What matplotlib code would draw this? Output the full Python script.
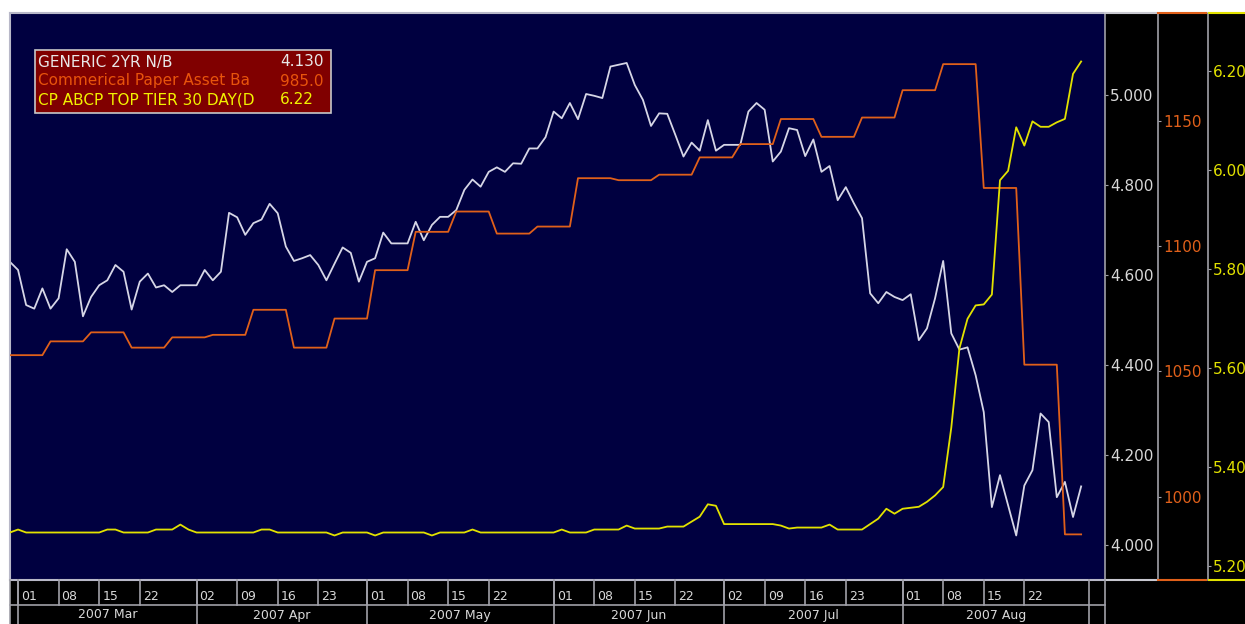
import numpy as np
import pandas as pd
import matplotlib
matplotlib.use("Agg")
import matplotlib.pyplot as plt
import matplotlib.transforms as mtransforms
from matplotlib.patches import Rectangle
from matplotlib.lines import Line2D

# weekday closes, 2007-02-28 .. 2007-08-31
first_day = "2007-02-28"
last_day = "2007-08-31"

# GENERIC 2YR N/B (yield, %)
gen_2yr = [
    4.629, 4.611, 4.533, 4.525, 4.570, 4.525, 4.548, 4.657, 4.629, 4.508,
    4.551, 4.577, 4.588, 4.622, 4.607, 4.523, 4.585, 4.603, 4.572, 4.577,
    4.562, 4.577, 4.577, 4.577, 4.611, 4.588, 4.607, 4.738, 4.728, 4.689,
    4.715, 4.723, 4.758, 4.737, 4.663, 4.631, 4.637, 4.644, 4.622, 4.588,
    4.625, 4.661, 4.649, 4.585, 4.629, 4.637, 4.694, 4.670, 4.670, 4.670,
    4.718, 4.677, 4.711, 4.729, 4.729, 4.744, 4.789, 4.812, 4.796, 4.829,
    4.839, 4.829, 4.848, 4.847, 4.881, 4.881, 4.906, 4.963, 4.948, 4.982,
    4.946, 5.002, 4.998, 4.993, 5.063, 5.067, 5.071, 5.022, 4.989, 4.931,
    4.959, 4.958, 4.911, 4.863, 4.894, 4.876, 4.944, 4.876, 4.889, 4.889,
    4.889, 4.963, 4.982, 4.967, 4.852, 4.874, 4.926, 4.922, 4.864, 4.901,
    4.829, 4.842, 4.766, 4.795, 4.759, 4.726, 4.559, 4.537, 4.562, 4.551,
    4.544, 4.557, 4.455, 4.481, 4.548, 4.631, 4.470, 4.434, 4.439, 4.377,
    4.295, 4.084, 4.155, 4.088, 4.021, 4.132, 4.166, 4.292, 4.273, 4.106,
    4.140, 4.062, 4.130,
]

# CP ABCP TOP TIER 30 DAY (rate, %)
abcp_30d = [
    5.268, 5.274, 5.268, 5.268, 5.268, 5.268, 5.268, 5.268, 5.268, 5.268,
    5.268, 5.268, 5.274, 5.274, 5.268, 5.268, 5.268, 5.268, 5.274, 5.274,
    5.274, 5.284, 5.274, 5.268, 5.268, 5.268, 5.268, 5.268, 5.268, 5.268,
    5.268, 5.274, 5.274, 5.268, 5.268, 5.268, 5.268, 5.268, 5.268, 5.268,
    5.262, 5.268, 5.268, 5.268, 5.268, 5.262, 5.268, 5.268, 5.268, 5.268,
    5.268, 5.268, 5.262, 5.268, 5.268, 5.268, 5.268, 5.274, 5.268, 5.268,
    5.268, 5.268, 5.268, 5.268, 5.268, 5.268, 5.268, 5.268, 5.274, 5.268,
    5.268, 5.268, 5.274, 5.274, 5.274, 5.274, 5.282, 5.276, 5.276, 5.276,
    5.276, 5.280, 5.280, 5.280, 5.290, 5.300, 5.325, 5.322, 5.285, 5.285,
    5.285, 5.285, 5.285, 5.285, 5.285, 5.282, 5.276, 5.278, 5.278, 5.278,
    5.278, 5.284, 5.274, 5.274, 5.274, 5.274, 5.285, 5.296, 5.316, 5.306,
    5.316, 5.318, 5.320, 5.330, 5.343, 5.360, 5.480, 5.640, 5.700, 5.727,
    5.729, 5.749, 5.980, 5.999, 6.087, 6.050, 6.099, 6.088, 6.088, 6.097,
    6.104, 6.195, 6.220,
]

# Commercial Paper Asset Backed outstanding ($bn), weekly from Wed 2007-02-28
cp_asset_weekly = [
    1056.5, 1062.0, 1065.6, 1059.5, 1063.6, 1064.6, 1074.6, 1059.5, 1071.1,
    1090.4, 1105.7, 1113.8, 1105.0, 1107.8, 1127.1, 1126.3, 1128.5, 1135.4,
    1140.7, 1150.7, 1143.6, 1151.3, 1162.2, 1172.6, 1123.2, 1052.7, 985.0,
]

series_names = ["GENERIC 2YR N/B", "Commerical Paper Asset Ba", "CP ABCP TOP TIER 30 DAY(D"]
last_values = ["4.130", "985.0", "6.22"]

week_dates = [
    "2007-03-01", "2007-03-08", "2007-03-15", "2007-03-22",
    "2007-04-02", "2007-04-09", "2007-04-16", "2007-04-23",
    "2007-05-01", "2007-05-08", "2007-05-15", "2007-05-22",
    "2007-06-01", "2007-06-08", "2007-06-15", "2007-06-22",
    "2007-07-02", "2007-07-09", "2007-07-16", "2007-07-23",
    "2007-08-01", "2007-08-08", "2007-08-15", "2007-08-22",
]
week_labels = [d[-2:] for d in week_dates]
month_starts = ["2007-03-01", "2007-04-02", "2007-05-01", "2007-06-01",
                "2007-07-02", "2007-08-01", "2007-09-03"]
month_labels = ["2007 Mar", "2007 Apr", "2007 May", "2007 Jun", "2007 Jul", "2007 Aug"]

white_ticks = [4.0, 4.2, 4.4, 4.6, 4.8, 5.0]
orange_ticks = [1000, 1050, 1100, 1150]
yellow_ticks = [5.2, 5.4, 5.6, 5.8, 6.0, 6.2]

C_NAVY = "#000040"
C_WHITE = "#D6D6E6"
C_ORANGE = "#E0601A"
C_YELLOW = "#E2E200"
C_GRID = "#A0A0A8"
C_TEXT = "#D8D8D8"

days = pd.bdate_range(first_day, last_day)
x = np.arange(len(days))
cp_asset = (pd.Series(cp_asset_weekly,
                      index=pd.date_range(first_day, periods=len(cp_asset_weekly), freq="7D"))
            .reindex(days, method="ffill"))

W, H = 1245, 624
fig = plt.figure(figsize=(W / 100, H / 100), dpi=100, facecolor="white")


def fx(px):
    return px / W


def fy(py):
    return 1 - py / H


L, R, T, B = 10, 1105, 13, 580

# black panels behind the value scales and the date rows
fig.add_artist(Rectangle((fx(R), fy(B)), 1 - fx(R), fy(T) - fy(B), transform=fig.transFigure,
                         facecolor="black", edgecolor="none", zorder=-5))
fig.add_artist(Rectangle((fx(L), 0), 1 - fx(L), fy(B), transform=fig.transFigure,
                         facecolor="black", edgecolor="none", zorder=-5))

ax = fig.add_axes([fx(L), fy(B), fx(R) - fx(L), fy(T) - fy(B)])
ax.set_facecolor(C_NAVY)
ax.plot(x, gen_2yr, color=C_WHITE, lw=1.3)
ax.set_xlim(0.01, 134.94)
ax.set_ylim(3.922, 5.182)
ax.set_xticks([])

ax_o = ax.twinx()
ax_y = ax.twinx()

# twinx moves the host ticks to the left, so put them back on the right
ax.yaxis.tick_right()
ax.set_yticks(white_ticks)
ax.yaxis.set_major_formatter(lambda v, p: f"{v:.3f}")
ax.tick_params(axis="y", colors=C_GRID, labelcolor=C_TEXT, labelsize=11, length=2, pad=1.5)
for s in ["left", "top", "bottom"]:
    ax.spines[s].set_color("#B8B8C8")
    ax.spines[s].set_linewidth(1.5)
ax.spines["right"].set_color(C_GRID)
ax.spines["right"].set_linewidth(1.2)

ax_o.plot(x, cp_asset.values, color=C_ORANGE, lw=1.3)
ax_o.set_ylim(966.8, 1193.0)
ax_o.set_yticks(orange_ticks)
ax_o.yaxis.set_major_formatter(lambda v, p: f"{v:.0f}")
ax_o.tick_params(axis="y", colors=C_GRID, labelcolor=C_ORANGE, labelsize=11, length=2, pad=1.5)
ax_o.spines["right"].set_position(("outward", 53 * 0.72))

ax_y.plot(x, abcp_30d, color=C_YELLOW, lw=1.3)
ax_y.set_ylim(5.172, 6.318)
ax_y.set_yticks(yellow_ticks)
ax_y.yaxis.set_major_formatter(lambda v, p: f"{v:.2f}")
ax_y.tick_params(axis="y", colors=C_GRID, labelcolor=C_YELLOW, labelsize=11, length=2, pad=1.5)
ax_y.spines["right"].set_position(("outward", 103 * 0.72))

for a in (ax_o, ax_y):
    for s in ["left", "top", "bottom"]:
        a.spines[s].set_visible(False)
    a.spines["right"].set_color(C_GRID)
    a.spines["right"].set_linewidth(1.2)
    a.set_xticks([])

# coloured top / bottom edges over each value scale
for x0, x1, col in [(R, 1156, "#C8C8D0"), (1158, 1206, C_ORANGE), (1209, W, C_YELLOW)]:
    for yy in (T, B):
        fig.add_artist(Line2D([fx(x0), fx(x1)], [fy(yy), fy(yy)], transform=fig.transFigure,
                              color=col, lw=1.5, zorder=6))

# date rows under the plot
trans = mtransforms.blended_transform_factory(ax.transData, fig.transFigure)
lab_trans = mtransforms.offset_copy(trans, fig=fig, x=3, y=0, units="dots")
week_pos = np.busday_count(first_day, week_dates)
month_pos = np.busday_count(first_day, month_starts)

fig.add_artist(Line2D([fx(L), fx(R)], [fy(605), fy(605)], transform=fig.transFigure,
                      color=C_GRID, lw=1.2, zorder=6))
for xx in (L, R):
    fig.add_artist(Line2D([fx(xx), fx(xx)], [fy(B), 0], transform=fig.transFigure,
                          color=C_GRID, lw=1.2, zorder=6))
for p, lab in zip(week_pos, week_labels):
    fig.add_artist(Line2D([p, p], [fy(B), fy(605)], transform=trans, color=C_GRID, lw=1.2, zorder=6))
    fig.text(p, fy(596), lab, transform=lab_trans, ha="left", va="center",
             fontsize=9, color=C_TEXT, zorder=7)
for p in month_pos:
    fig.add_artist(Line2D([p, p], [fy(B), 0], transform=trans, color=C_GRID, lw=1.2, zorder=6))
for p0, p1, lab in zip(month_pos[:-1], month_pos[1:], month_labels):
    fig.text((p0 + p1) / 2, fy(615), lab, transform=trans, ha="center", va="center",
             fontsize=9, color=C_TEXT, zorder=7)

# legend box
fig.add_artist(Rectangle((fx(35), fy(113)), fx(331) - fx(35), fy(50) - fy(113),
                         transform=fig.transFigure, facecolor="#800000",
                         edgecolor="#C8C8C8", lw=1.2, zorder=10))
legend_colors = ["#E8E8E8", "#E8540C", "#F2F200"]
for i, (name, val, col) in enumerate(zip(series_names, last_values, legend_colors)):
    yy = fy(62 + 19 * i)
    fig.text(fx(38), yy, name, color=col, fontsize=11, ha="left", va="center", zorder=11)
    fig.text(fx(280), yy, val, color=col, fontsize=11, ha="left", va="center", zorder=11)

fig.savefig("out.png", dpi=100, facecolor="white")
